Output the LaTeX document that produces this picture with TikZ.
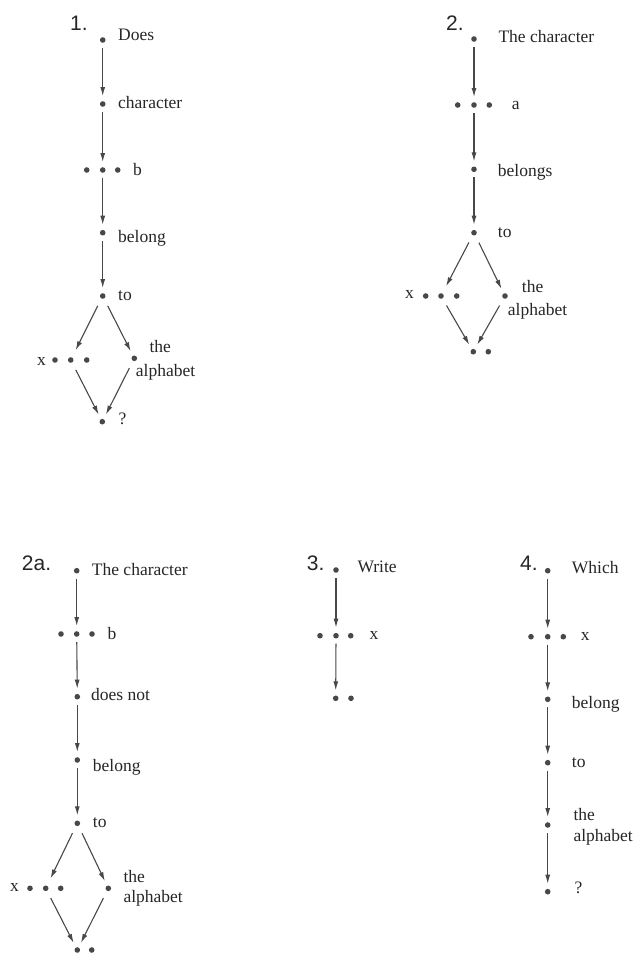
\documentclass[tikz,border=0pt]{standalone}
\usepackage{fontspec}
\setmainfont{Liberation Serif}
\newfontfamily\numfont{Liberation Sans}
\usetikzlibrary{arrows.meta}
\definecolor{inkgray}{HTML}{484848}
\definecolor{textgray}{HTML}{262626}
\begin{document}
\begin{tikzpicture}[x=1pt,y=-1pt,
    pt/.style={circle,fill=inkgray,inner sep=0pt,minimum size=5.6pt},
    word/.style={anchor=base west,inner sep=0pt,text=textgray,font=\fontsize{17.5}{20}\selectfont},
    numlabel/.style={anchor=base west,inner sep=0pt,text=textgray,font=\numfont\fontsize{21}{24}\selectfont},
    edge/.style={draw=inkgray,line width=1.1pt,-{Latex[length=9pt,width=5pt]},shorten <=5pt,shorten >=5pt}]
\useasboundingbox (0,0) rectangle (637,953);
%
% 1.
\node[numlabel] (n1) at (70,30) {1.};
\node[pt] (d1does) at (102.7,40) {};
\node[pt] (d1char) at (102.7,104) {};
\node[pt] (d1b) at (102.7,170) {};
\node[pt] (d1bl) at (86.7,170) {};
\node[pt] (d1br) at (117.7,170) {};
\node[pt] (d1belong) at (102.7,232.7) {};
\node[pt] (d1to) at (102.7,296) {};
\node[pt] (d1x) at (70.7,360) {};
\node[pt] (d1xl) at (55,360) {};
\node[pt] (d1xr) at (86.7,360) {};
\node[pt] (d1alpha) at (134.3,358.3) {};
\node[pt] (d1q) at (102.3,421.7) {};
\node[word] (t1does) at (118,40.7) {Does};
\node[word] (t1char) at (118,108.3) {character};
\node[word] (t1b) at (133,175) {b};
\node[word] (t1belong) at (118,242.7) {belong};
\node[word] (t1to) at (118,300) {to};
\node[word] (t1x) at (37,365) {x};
\node[word] (t1the) at (149.3,352.7) {the};
\node[word] (t1alpha) at (135.7,376) {alphabet};
\node[word] (t1q) at (118.3,424) {?};
% edges
\draw[edge] (d1does) -- (d1char);
\draw[edge] (d1char) -- (d1b);
\draw[edge] (d1b) -- (d1belong);
\draw[edge] (d1belong) -- (d1to);
\draw[edge,shorten <=8pt,shorten >=8pt] (d1to) -- (d1x);
\draw[edge,shorten <=8pt] (d1to) -- (d1alpha);
\draw[edge,shorten <=8pt] (d1x) -- (d1q);
\draw[edge,shorten <=8pt] (d1alpha) -- (d1q);
%
% 2.
\node[numlabel] (n2) at (446,30.7) {2.};
\node[pt] (d2the) at (474,39) {};
\node[pt] (d2a) at (474,105) {};
\node[pt] (d2al) at (457.7,105) {};
\node[pt] (d2ar) at (489.3,105) {};
\node[pt] (d2belongs) at (474,169.3) {};
\node[pt] (d2to) at (474,232.7) {};
\node[pt] (d2x) at (441,296) {};
\node[pt] (d2xl) at (425.7,296) {};
\node[pt] (d2xr) at (456.7,296) {};
\node[pt] (d2alpha) at (505,296) {};
\node[pt] (d2end) at (473.3,351.7) {};
\node[pt] (d2endr) at (488.3,351.7) {};
\node[word] (t2the) at (498.3,42.3) {The character};
\node[word] (t2a) at (511.7,109.3) {a};
\node[word] (t2belongs) at (497.7,176.7) {belongs};
\node[word] (t2to) at (497.7,237.3) {to};
\node[word] (t2x) at (405,298.3) {x};
\node[word] (t2the2) at (521.7,292.3) {the};
\node[word] (t2alpha) at (507.7,315) {alphabet};
% edges
\draw[edge] (d2the) -- (d2a);
\draw[edge] (d2a) -- (d2belongs);
\draw[edge] (d2belongs) -- (d2to);
\draw[edge,shorten <=8pt,shorten >=8pt] (d2to) -- (d2x);
\draw[edge,shorten <=8pt] (d2to) -- (d2alpha);
\draw[edge,shorten <=8pt] (d2x) -- (d2end);
\draw[edge,shorten <=8pt] (d2alpha) -- (d2end);
%
% 2a.
\node[numlabel] (n2a) at (21.7,570) {2a.};
\node[pt] (d3the) at (76.7,570.7) {};
\node[pt] (d3b) at (76.7,634) {};
\node[pt] (d3bl) at (61,634) {};
\node[pt] (d3br) at (92,634) {};
\node[pt] (d3not) at (77.3,696.7) {};
\node[pt] (d3belong) at (77.3,760) {};
\node[pt] (d3to) at (77.3,823.3) {};
\node[pt] (d3x) at (45.7,888.3) {};
\node[pt] (d3xl) at (30,888.3) {};
\node[pt] (d3xr) at (60.7,888.3) {};
\node[pt] (d3alpha) at (108.3,888.3) {};
\node[pt] (d3end) at (77.3,950) {};
\node[pt] (d3endr) at (91.7,950) {};
\node[word] (t3the) at (91.7,575) {The character};
\node[word] (t3b) at (107.3,639.3) {b};
\node[word] (t3not) at (91,700) {does not};
\node[word] (t3belong) at (92.7,771.7) {belong};
\node[word] (t3to) at (92.7,827.3) {to};
\node[word] (t3x) at (10,891.7) {x};
\node[word] (t3the2) at (123.3,882.7) {the};
\node[word] (t3alpha) at (123.3,902.7) {alphabet};
% edges
\draw[edge] (d3the) -- (d3b);
\draw[edge] (d3b) -- (d3not);
\draw[edge] (d3not) -- (d3belong);
\draw[edge] (d3belong) -- (d3to);
\draw[edge,shorten <=8pt,shorten >=8pt] (d3to) -- (d3x);
\draw[edge,shorten <=8pt] (d3to) -- (d3alpha);
\draw[edge,shorten <=8pt] (d3x) -- (d3end);
\draw[edge,shorten <=8pt] (d3alpha) -- (d3end);
%
% 3.
\node[numlabel] (n3) at (306.7,570) {3.};
\node[pt] (d4write) at (336,570) {};
\node[pt] (d4x) at (336,635.7) {};
\node[pt] (d4xl) at (320,635.7) {};
\node[pt] (d4xr) at (350.7,635.7) {};
\node[pt] (d4end) at (335.7,698.3) {};
\node[pt] (d4endr) at (351,698.3) {};
\node[word] (t4write) at (357.3,572.3) {Write};
\node[word] (t4x) at (369.3,639) {x};
% edges
\draw[edge] (d4write) -- (d4x);
\draw[edge] (d4x) -- (d4end);
%
% 4.
\node[numlabel] (n4) at (520,570) {4.};
\node[pt] (d5which) at (547.7,570.7) {};
\node[pt] (d5x) at (547.7,636.7) {};
\node[pt] (d5xl) at (531,636.7) {};
\node[pt] (d5xr) at (563.3,636.7) {};
\node[pt] (d5belong) at (547.7,699.3) {};
\node[pt] (d5to) at (547.7,762.7) {};
\node[pt] (d5alpha) at (547.7,825) {};
\node[pt] (d5q) at (547.7,891.7) {};
\node[word] (t5which) at (571.7,573.3) {Which};
\node[word] (t5x) at (580.7,640) {x};
\node[word] (t5belong) at (571.7,708.3) {belong};
\node[word] (t5to) at (571.7,767.3) {to};
\node[word] (t5the) at (573.3,820) {the};
\node[word] (t5alpha) at (573.3,841.7) {alphabet};
\node[word] (t5q) at (574.3,893.3) {?};
% edges
\draw[edge] (d5which) -- (d5x);
\draw[edge] (d5x) -- (d5belong);
\draw[edge] (d5belong) -- (d5to);
\draw[edge] (d5to) -- (d5alpha);
\draw[edge] (d5alpha) -- (d5q);
\end{tikzpicture}
\end{document}
